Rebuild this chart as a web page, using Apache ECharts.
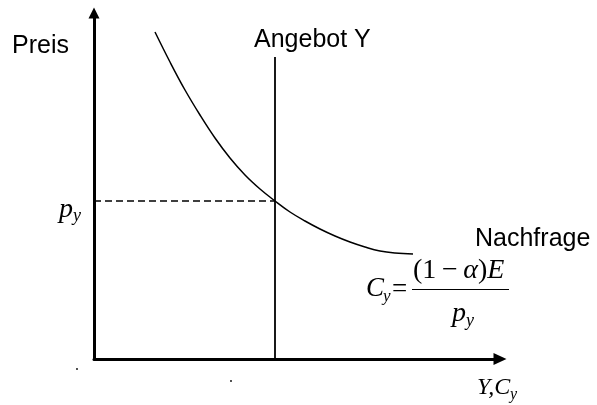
<!DOCTYPE html>
<html>
<head>
<meta charset="utf-8">
<style>html,body{margin:0;padding:0;background:#fff;}#c{width:597px;height:405px;}</style>
<script src="https://cdn.jsdelivr.net/npm/echarts@6/dist/echarts.min.js"></script>
</head>
<body>
<div id="c"></div>
<script>
// Demand curve (Nachfrage), schematic units
const demandX = [61, 76, 91, 106, 121, 136, 151, 166, 181, 196, 211, 226, 241, 256, 271, 286, 301, 319];
const demandY = [327, 297, 269, 244, 221, 201, 184, 170, 158, 147, 138, 130, 123, 117, 112, 108, 106, 105];
// Supply (Angebot Y): vertical line at quantity Y
const supplyX = [181, 181];
const supplyY = [0, 302];
// Equilibrium price p_y (dashed)
const priceX = [0, 181];
const priceY = [158, 158];
const axisMax = { x: 406, y: 346 };

const zip = (a, b) => a.map((v, i) => [v, b[i]]);
const sans = '"Liberation Sans", Arial, sans-serif';
const serif = '"Liberation Serif", "Times New Roman", serif';

const chart = echarts.init(document.getElementById('c'), null, { renderer: 'canvas' });
const txt = (x, y, text, font, extra) => Object.assign({
  type: 'text', x: x, y: y, silent: true,
  style: Object.assign({ text: text, font: font, fill: '#000', align: 'left', verticalAlign: 'middle' }, extra || {})
});

chart.setOption({
  animation: false,
  backgroundColor: '#fff',
  grid: { left: 94, right: 97, top: 13, bottom: 46, containLabel: false },
  xAxis: {
    type: 'value', min: 0, max: axisMax.x,
    axisLine: { show: true, symbol: ['none', 'triangle'], symbolSize: [12, 13], lineStyle: { color: '#000', width: 3 } },
    axisTick: { show: false }, axisLabel: { show: false }, splitLine: { show: false }
  },
  yAxis: {
    type: 'value', min: 0, max: axisMax.y,
    axisLine: { show: true, symbol: ['none', 'triangle'], symbolSize: [11, 11], lineStyle: { color: '#000', width: 3 } },
    axisTick: { show: false }, axisLabel: { show: false }, splitLine: { show: false }
  },
  series: [
    { type: 'line', data: zip(demandX, demandY), smooth: 0.4, symbol: 'none',
      lineStyle: { color: '#000', width: 1.5 } },
    { type: 'line', data: zip(supplyX, supplyY), symbol: 'none',
      lineStyle: { color: '#000', width: 1.8 } },
    { type: 'line', data: zip(priceX, priceY), symbol: 'none',
      lineStyle: { color: '#000', width: 1.3, type: [7, 4] } }
  ],
  graphic: [
    txt(12, 46, 'Preis', '25px ' + sans),
    txt(254, 40, 'Angebot Y', '25px ' + sans),
    txt(475, 239, 'Nachfrage', '25px ' + sans),
    // p_y on the price axis
    txt(59, 209.5, 'p', 'italic 28px ' + serif),
    txt(73, 216.5, 'y', 'italic 18px ' + serif),
    // C_y = (1-α)E / p_y
    txt(366, 289, 'C', 'italic 27px ' + serif),
    txt(383, 297, 'y', 'italic 17px ' + serif),
    txt(392, 290, '=', '27px ' + serif),
    {
      type: 'text', x: 413, y: 271, silent: true,
      style: {
        text: '{r|(1\u2009−\u2009}{i|α}{r|)}{i|E}', verticalAlign: 'middle', align: 'left',
        rich: { r: { font: '28px ' + serif, fill: '#000' }, i: { font: 'italic 28px ' + serif, fill: '#000' } }
      }
    },
    { type: 'line', silent: true, shape: { x1: 412, y1: 289.5, x2: 509, y2: 289.5 }, style: { stroke: '#000', lineWidth: 1 } },
    txt(452, 314, 'p', 'italic 28px ' + serif),
    txt(466, 321, 'y', 'italic 18px ' + serif),
    // Axis label Y, C_y
    txt(477, 387.5, 'Y,C', 'italic 24px ' + serif),
    txt(510, 395, 'y', 'italic 16px ' + serif),
    // tiny specks
    { type: 'circle', silent: true, shape: { cx: 77, cy: 369, r: 0.9 }, style: { fill: '#000' } },
    { type: 'circle', silent: true, shape: { cx: 231, cy: 381, r: 0.9 }, style: { fill: '#000' } }
  ]
});
</script>
</body>
</html>
